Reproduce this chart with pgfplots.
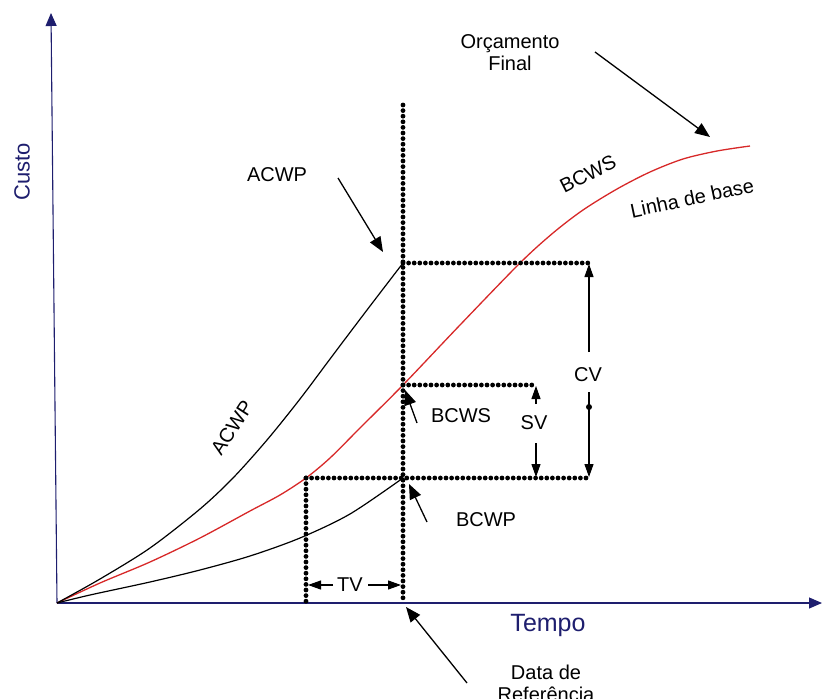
\documentclass[border=0pt]{standalone}
\usepackage{pgfplots}
\pgfplotsset{compat=1.18}
\usepackage{fontspec}
\setmainfont{Liberation Sans}
\usetikzlibrary{arrows.meta}
\definecolor{navy}{RGB}{30,30,110}
\definecolor{bred}{RGB}{215,40,40}
\begin{document}
\begin{tikzpicture}
\begin{axis}[
  scale only axis, width=823pt, height=699pt,
  xmin=0, xmax=823, ymin=0, ymax=699, y dir=reverse,
  axis lines=none, clip=false,
  dotl/.style={black, line width=4.8pt, line cap=round, dash pattern=on 0pt off 5.6pt},
]
% axes
\draw[navy, line width=1.1pt, -{Triangle[length=13pt,width=11pt]}] (axis cs:57,603) -- (axis cs:51,13);
\draw[navy, line width=1.1pt, -{Triangle[length=13pt,width=11pt]}] (axis cs:57,603) -- (axis cs:822,603);
\node[navy, rotate=90, font=\fontsize{22}{24}\selectfont] at (axis cs:22,172) {Custo};
\node[navy, font=\fontsize{25}{28}\selectfont] at (axis cs:548,625) {Tempo};

% BCWS (baseline)
\addplot[bred, line width=1.3pt, smooth, tension=0.5] coordinates {
(57,603) (100,583) (150,562) (200,538) (250,511) (280,495) (306,478) (330,458) (360,428) (403,385) (460,325) (520,263) (553,233) (583,210) (617,189) (650,172) (683,159) (717,151) (750,146)};
% ACWP
\addplot[black, line width=1.2pt, smooth, tension=0.5] coordinates {
(57,603) (100,579) (150,548) (200,509) (233,478) (267,440) (300,399) (333,355) (367,310) (403,263)};
% BCWP
\addplot[black, line width=1.2pt, smooth, tension=0.5] coordinates {
(57,603) (90,595) (150,582) (200,570) (250,556) (300,538) (350,514) (403,478)};

% dotted lines
\addplot[dotl] coordinates {(403,105) (403,603)};
\addplot[dotl] coordinates {(403,263) (590,263)};
\addplot[dotl] coordinates {(403,385) (537,385)};
\addplot[dotl] coordinates {(306,478) (590,478)};
\addplot[dotl] coordinates {(306,478) (306,603)};

% CV, SV, TV arrows
\tikzset{ah/.style={black, line width=1.1pt, -{Triangle[length=13pt,width=9pt]}}}
\tikzset{lb/.style={font=\fontsize{20}{22}\selectfont}}
\draw[ah] (axis cs:589,352) -- (axis cs:589,264);
\draw[ah] (axis cs:589,392) -- (axis cs:589,477);
\fill[black] (axis cs:589,407) circle (3pt);
\node[lb] at (axis cs:588,375) {CV};
\draw[ah] (axis cs:536,404) -- (axis cs:536,386);
\draw[ah] (axis cs:536,443) -- (axis cs:536,477);
\node[lb] at (axis cs:534,423) {SV};
\draw[ah] (axis cs:333,585) -- (axis cs:308,585);
\draw[ah] (axis cs:368,585) -- (axis cs:401,585);
\node[lb] at (axis cs:350,585) {TV};

% pointers
\tikzset{pa/.style={black, line width=1.3pt, -{Triangle[length=15pt,width=12pt]}}}
\draw[pa] (axis cs:338,178) -- (axis cs:383,252);
\node[lb] at (axis cs:277,175) {ACWP};
\draw[pa] (axis cs:417,423) -- (axis cs:405,390);
\node[lb] at (axis cs:461,416) {BCWS};
\draw[pa] (axis cs:427,522) -- (axis cs:409,484);
\node[lb] at (axis cs:486,520) {BCWP};
\draw[pa] (axis cs:467,683) -- (axis cs:406,607);
\node[lb, align=center] at (axis cs:546,683) {Data de\\Referência};
\draw[pa] (axis cs:595,52) -- (axis cs:710,137);
\node[lb, align=center] at (axis cs:510,53) {Orçamento\\Final};

% curve labels
\node[lb, rotate=27] at (axis cs:588,174) {BCWS};
\node[lb, rotate=12] at (axis cs:692,198) {Linha de base};
\node[lb, rotate=57] at (axis cs:232,428) {ACWP};
\end{axis}
\pgfresetboundingbox
\path (current axis.south west) rectangle (current axis.north east);
\end{tikzpicture}
\end{document}
